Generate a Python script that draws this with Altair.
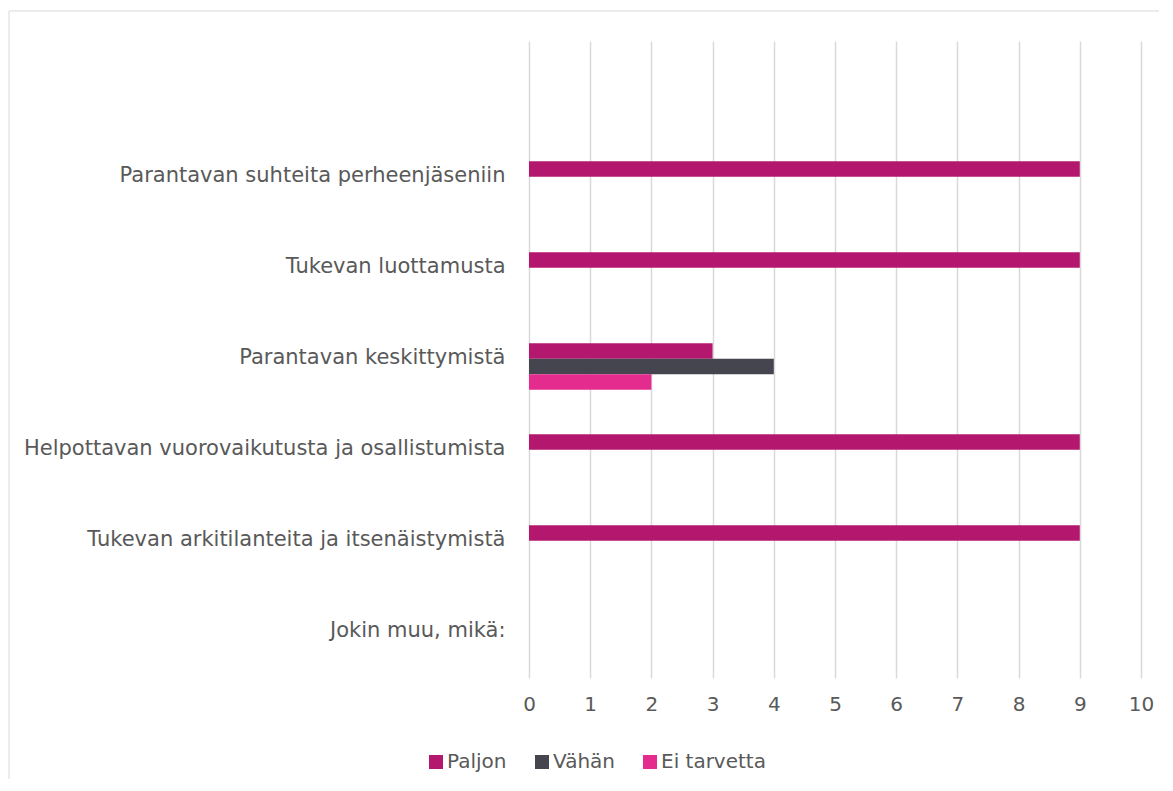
import altair as alt
import pandas as pd

categories = [
    "Parantavan suhteita perheenjäseniin",
    "Tukevan luottamusta",
    "Parantavan keskittymistä",
    "Helpottavan vuorovaikutusta ja osallistumista",
    "Tukevan arkitilanteita ja itsenäistymistä",
    "Jokin muu, mikä:",
]
series = ["Paljon", "Vähän", "Ei tarvetta"]
paljon = [9, 9, 3, 9, 9, 0]
vahan = [0, 0, 4, 0, 0, 0]
ei_tarvetta = [0, 0, 2, 0, 0, 0]
colors = ["#b4186e", "#45454f", "#e32c8e"]
x_ticks = list(range(0, 11))

rows = []
for s, vals in zip(series, [paljon, vahan, ei_tarvetta]):
    for c, v in zip(categories, vals):
        rows.append({"Kategoria": c, "Sarja": s, "Arvo": v})
df = pd.DataFrame(rows)

FONT = "DejaVu Sans"
GRAY = "#595959"

bars = alt.Chart(df).mark_bar().encode(
    y=alt.Y(
        "Kategoria:N",
        scale=alt.Scale(domain=[" "] + categories, paddingInner=0.489,
                        paddingOuter=0.2445, align=0.657),
        axis=alt.Axis(
            title=None, domain=False, ticks=False, grid=False,
            labelFont=FONT, labelFontSize=21, labelColor=GRAY,
            labelPadding=24, labelLimit=600, labelOffset=-8,
        ),
    ),
    yOffset=alt.YOffset(
        "Sarja:N",
        scale=alt.Scale(domain=series, paddingInner=0, paddingOuter=0),
    ),
    x=alt.X(
        "Arvo:Q",
        scale=alt.Scale(domain=[0, 10], nice=False),
        axis=alt.Axis(
            title=None, values=x_ticks, domain=False, ticks=False,
            grid=True, gridColor="#d9d9d9", gridWidth=1.5, labelFlush=False,
            labelFont=FONT, labelFontSize=20, labelColor=GRAY, labelPadding=16,
        ),
    ),
    color=alt.Color(
        "Sarja:N",
        scale=alt.Scale(domain=series, range=colors),
        legend=alt.Legend(
            title=None, orient="none", direction="horizontal",
            legendX=-103, legendY=711,
            symbolType="square", symbolSize=196, symbolStrokeWidth=0,
            labelFont=FONT, labelFontSize=20, labelColor=GRAY,
            labelOffset=1, columnPadding=25,
        ),
    ),
)

frame = alt.Data(values=[{"a": 1}])
top_line = alt.Chart(frame).mark_rule(stroke="#d9d9d9", strokeWidth=1).encode(
    x=alt.value(-520), x2=alt.value(630), y=alt.value(-30)
)
left_line = alt.Chart(frame).mark_rule(stroke="#d9d9d9", strokeWidth=1).encode(
    x=alt.value(-520), y=alt.value(-30), y2=alt.value(738)
)

chart = alt.layer(top_line, left_line, bars).properties(
    width=612, height=637,
    padding={"top": 2, "left": 0, "right": 0, "bottom": 0},
).configure_view(stroke=None)

chart.save("out.html", embed_options={"renderer": "svg", "actions": False})
